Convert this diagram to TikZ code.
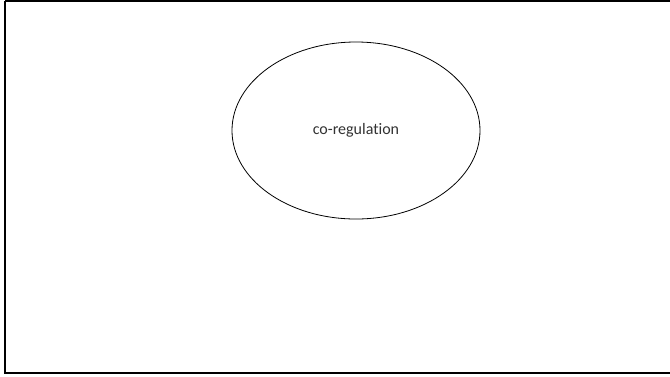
\documentclass[tikz,border=0pt]{standalone}
\usepackage{fontspec}
\setmainfont{Carlito}[Ligatures={NoCommon,NoRare,NoContextual}]
\usetikzlibrary{shapes.geometric}
\begin{document}
\begin{tikzpicture}[x=1pt,y=-1pt,
  frame/.style={draw=black,line width=2pt},
  bubble/.style={ellipse,draw=black,line width=0.8pt,minimum width=248pt,minimum height=177pt,inner sep=0pt,font=\fontsize{16}{18}\selectfont,text=black!80}]
\useasboundingbox (0,0) rectangle (670,376);
\fill[white] (0,0) rectangle (670,376);
\draw[frame] (5,1) -- (672,1) (5,1) -- (5,373) -- (672,373);
\node[bubble] (co) at (356,130.5) {co-regulation};
\end{tikzpicture}
\end{document}
